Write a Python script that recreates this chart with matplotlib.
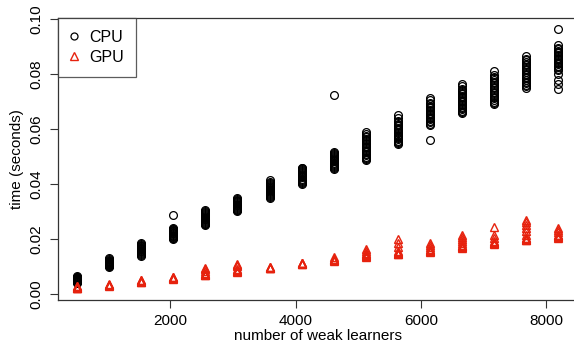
import matplotlib
matplotlib.use("Agg")
import matplotlib.pyplot as plt

plt.rcParams['font.family'] = ['Liberation Sans', 'DejaVu Sans']

n_learners = [512, 1024, 1536, 2048, 2560, 3072, 3584, 4096,
              4608, 5120, 5632, 6144, 6656, 7168, 7680, 8192]

cpu_times = [
    [0.0040, 0.0042, 0.0044, 0.0046, 0.0047, 0.0049, 0.0050, 0.0051, 0.0052, 0.0053, 0.0054,
     0.0055, 0.0056, 0.0057, 0.0058, 0.0060, 0.0062, 0.0065],
    [0.0098, 0.0100, 0.0102, 0.0104, 0.0106, 0.0108, 0.0110, 0.0112, 0.0113, 0.0115, 0.0116,
     0.0118, 0.0119, 0.0121, 0.0122, 0.0126, 0.0131],
    [0.0138, 0.0142, 0.0145, 0.0149, 0.0152, 0.0155, 0.0158, 0.0160, 0.0163, 0.0165, 0.0167,
     0.0169, 0.0171, 0.0173, 0.0175, 0.0178, 0.0180, 0.0185],
    [0.0200, 0.0203, 0.0205, 0.0208, 0.0210, 0.0212, 0.0215, 0.0217, 0.0220, 0.0222, 0.0225,
     0.0228, 0.0230, 0.0233, 0.0235, 0.0238, 0.0240, 0.0287],
    [0.0250, 0.0253, 0.0256, 0.0259, 0.0262, 0.0265, 0.0268, 0.0271, 0.0274, 0.0277, 0.0280,
     0.0284, 0.0287, 0.0291, 0.0294, 0.0297, 0.0300, 0.0305],
    [0.0300, 0.0304, 0.0307, 0.0310, 0.0313, 0.0316, 0.0319, 0.0322, 0.0325, 0.0328, 0.0331,
     0.0334, 0.0337, 0.0340, 0.0343, 0.0346, 0.0350],
    [0.0350, 0.0354, 0.0357, 0.0360, 0.0364, 0.0367, 0.0371, 0.0374, 0.0378, 0.0381, 0.0385,
     0.0388, 0.0392, 0.0396, 0.0400, 0.0404, 0.0408, 0.0415],
    [0.0400, 0.0404, 0.0408, 0.0412, 0.0416, 0.0420, 0.0424, 0.0428, 0.0432, 0.0436, 0.0440,
     0.0443, 0.0447, 0.0450, 0.0454, 0.0457, 0.0460],
    [0.0455, 0.0458, 0.0462, 0.0466, 0.0470, 0.0474, 0.0478, 0.0482, 0.0486, 0.0490, 0.0494,
     0.0498, 0.0502, 0.0506, 0.0510, 0.0513, 0.0516, 0.0724],
    [0.0487, 0.0491, 0.0495, 0.0500, 0.0505, 0.0510, 0.0515, 0.0520, 0.0525, 0.0530, 0.0535,
     0.0540, 0.0545, 0.0550, 0.0555, 0.0560, 0.0565, 0.0570, 0.0575, 0.0583, 0.0590],
    [0.0545, 0.0549, 0.0553, 0.0558, 0.0562, 0.0567, 0.0571, 0.0576, 0.0580, 0.0585, 0.0590,
     0.0595, 0.0600, 0.0605, 0.0610, 0.0615, 0.0620, 0.0625, 0.0630, 0.0640, 0.0650],
    [0.0560, 0.0615, 0.0620, 0.0625, 0.0630, 0.0635, 0.0640, 0.0645, 0.0650, 0.0655, 0.0660,
     0.0665, 0.0670, 0.0675, 0.0680, 0.0685, 0.0690, 0.0695, 0.0705, 0.0713],
    [0.0658, 0.0662, 0.0667, 0.0672, 0.0677, 0.0682, 0.0687, 0.0692, 0.0697, 0.0702, 0.0707,
     0.0712, 0.0717, 0.0722, 0.0727, 0.0732, 0.0737, 0.0742, 0.0747, 0.0756, 0.0764],
    [0.0690, 0.0695, 0.0700, 0.0706, 0.0712, 0.0718, 0.0724, 0.0730, 0.0736, 0.0742, 0.0748,
     0.0754, 0.0760, 0.0766, 0.0772, 0.0778, 0.0784, 0.0790, 0.0796, 0.0810],
    [0.0750, 0.0755, 0.0760, 0.0766, 0.0772, 0.0778, 0.0784, 0.0790, 0.0796, 0.0802, 0.0808,
     0.0814, 0.0820, 0.0826, 0.0832, 0.0838, 0.0844, 0.0850, 0.0856, 0.0865],
    [0.0745, 0.0765, 0.0780, 0.0800, 0.0815, 0.0820, 0.0825, 0.0830, 0.0835, 0.0840, 0.0845,
     0.0850, 0.0855, 0.0860, 0.0865, 0.0870, 0.0875, 0.0880, 0.0885, 0.0890, 0.0895, 0.0905,
     0.0964],
]

gpu_times = [
    [0.0020, 0.0022, 0.0023, 0.0025, 0.0026, 0.0028, 0.0030],
    [0.0030, 0.0031, 0.0033, 0.0034, 0.0036],
    [0.0043, 0.0045, 0.0047, 0.0049, 0.0051],
    [0.0056, 0.0058, 0.0059, 0.0061, 0.0062],
    [0.0068, 0.0070, 0.0072, 0.0074, 0.0077, 0.0083, 0.0090, 0.0095],
    [0.0080, 0.0082, 0.0085, 0.0088, 0.0092, 0.0100, 0.0106, 0.0110],
    [0.0093, 0.0095, 0.0096, 0.0098, 0.0099],
    [0.0108, 0.0110, 0.0111, 0.0113, 0.0114],
    [0.0120, 0.0122, 0.0124, 0.0126, 0.0128, 0.0133],
    [0.0135, 0.0137, 0.0140, 0.0144, 0.0148, 0.0156, 0.0164],
    [0.0145, 0.0147, 0.0150, 0.0154, 0.0158, 0.0170, 0.0185, 0.0200],
    [0.0152, 0.0155, 0.0157, 0.0160, 0.0163, 0.0170, 0.0178, 0.0186],
    [0.0168, 0.0170, 0.0173, 0.0176, 0.0178, 0.0185, 0.0192, 0.0200, 0.0208, 0.0216],
    [0.0183, 0.0185, 0.0187, 0.0190, 0.0192, 0.0203, 0.0215, 0.0243],
    [0.0195, 0.0197, 0.0200, 0.0203, 0.0205, 0.0215, 0.0230, 0.0240, 0.0250, 0.0262, 0.0270],
    [0.0205, 0.0207, 0.0210, 0.0213, 0.0216, 0.0224, 0.0233, 0.0240],
]

x_ticks = [2000, 4000, 6000, 8000]
y_ticks = [0.00, 0.02, 0.04, 0.06, 0.08, 0.10]
y_ticklabels = ["0.00", "0.02", "0.04", "0.06", "0.08", "0.10"]

cpu_color = "black"
gpu_color = "#e6220e"

W, H = 574, 349
fig = plt.figure(figsize=(W / 100, H / 100), dpi=100)
left, right, top, bottom = 57.7, 577.6, 18, 300
ax = fig.add_axes([left / W, (H - bottom) / H, (right - left) / W, (bottom - top) / H])

cx, cy, gx, gy = [], [], [], []
for n, vals in zip(n_learners, cpu_times):
    cx += [n] * len(vals)
    cy += vals
for n, vals in zip(n_learners, gpu_times):
    gx += [n] * len(vals)
    gy += vals

ax.plot(cx, cy, linestyle='none', marker='o', markersize=5.6, markerfacecolor='none',
        markeredgecolor=cpu_color, markeredgewidth=0.9, label='CPU')
ax.plot(gx, gy, linestyle='none', marker='^', markersize=6.4, markerfacecolor='none',
        markeredgecolor=gpu_color, markeredgewidth=1.0, label='GPU')

ax.set_xlim(205, 8499)
ax.set_ylim(-0.0022, 0.1004)
ax.set_xticks(x_ticks)
ax.set_xticklabels([str(t) for t in x_ticks])
ax.set_yticks(y_ticks)
ax.set_yticklabels(y_ticklabels, rotation=90, va='center')
ax.tick_params(direction='out', length=6, width=0.8, labelsize=11, pad=4, color='#333333')
for s in ax.spines.values():
    s.set_linewidth(0.9)
    s.set_color('#333333')

ax.set_xlabel("number of weak learners", fontsize=11, labelpad=1)
ax.set_ylabel("time (seconds)", fontsize=11, labelpad=4)

leg = ax.legend(loc='upper left', frameon=True, fancybox=False, fontsize=11.5,
                borderaxespad=0, handletextpad=0.65, borderpad=0.75, labelspacing=0.3,
                handlelength=0.6, markerscale=0.9)
leg.get_frame().set_edgecolor('#333333')
leg.get_frame().set_linewidth(0.9)

fig.savefig("out.png", dpi=100)
